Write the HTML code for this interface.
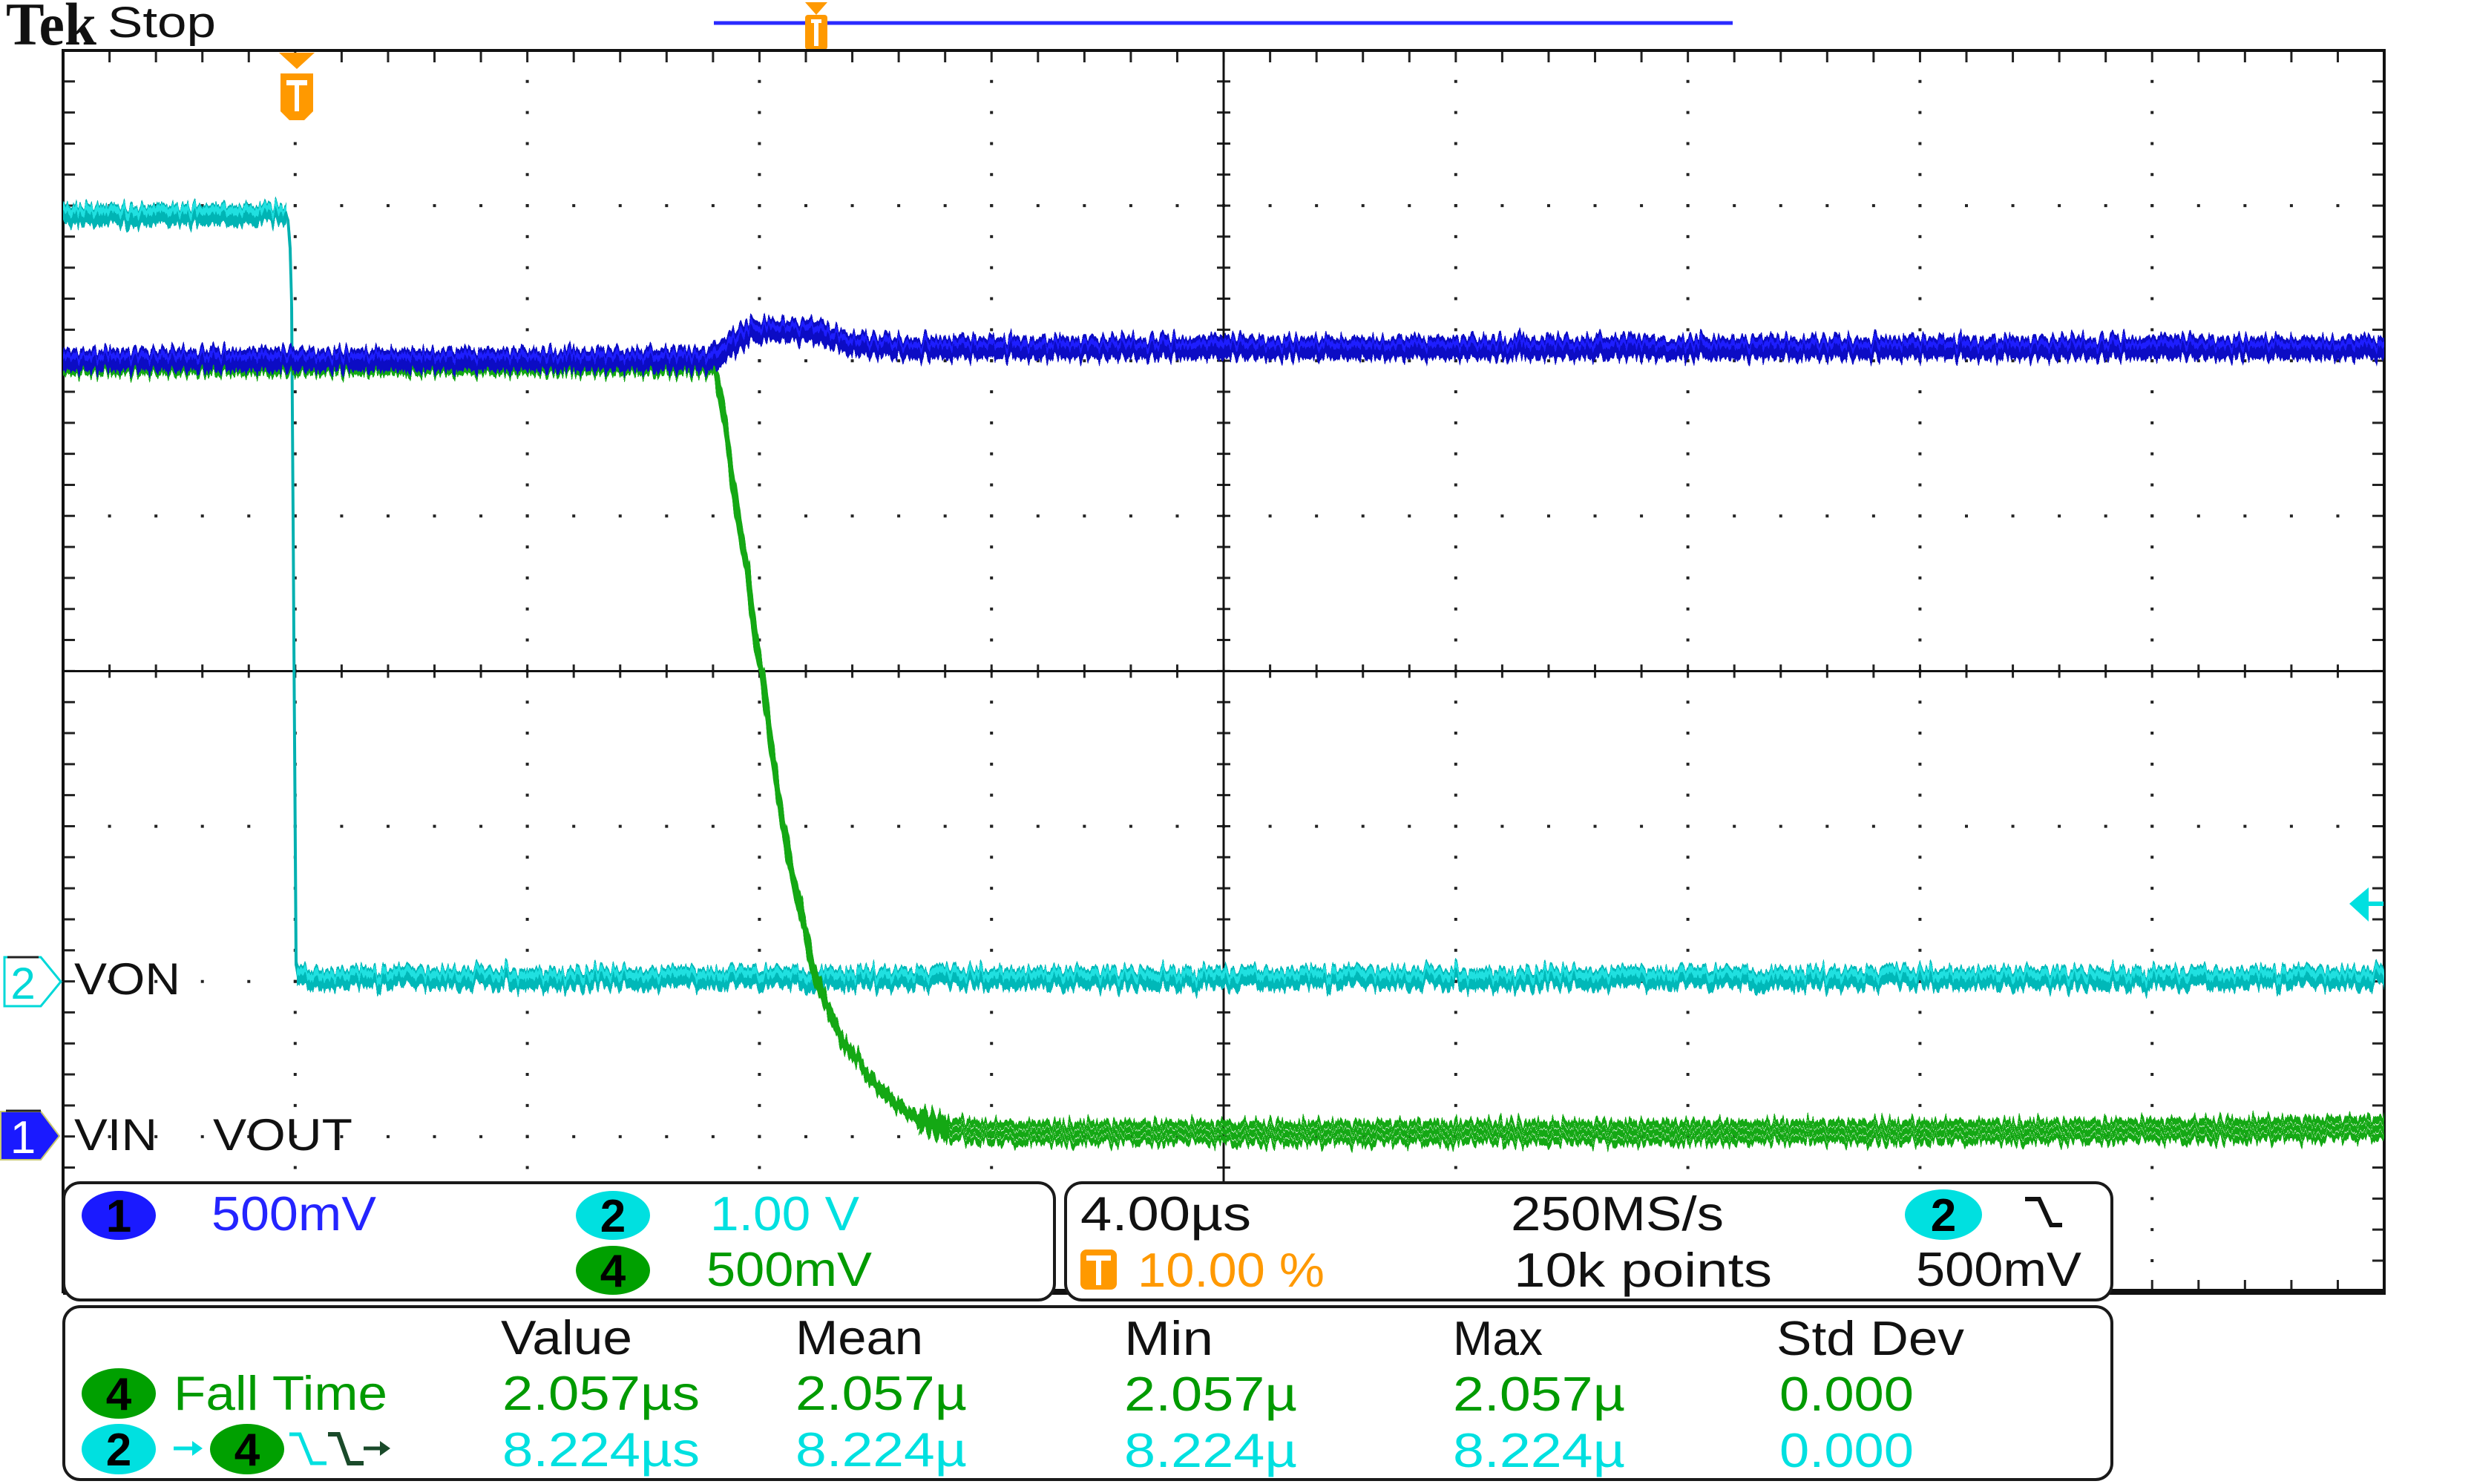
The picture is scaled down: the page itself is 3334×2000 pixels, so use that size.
<!DOCTYPE html>
<html>
<head>
<meta charset="utf-8">
<style>
html,body{margin:0;padding:0;background:#fff;overflow:hidden;}
svg{display:block;}
text{font-family:"Liberation Sans",sans-serif;}
</style>
</head>
<body>
<svg width="3334" height="2000" viewBox="0 0 3334 2000" xmlns="http://www.w3.org/2000/svg">
<defs>
<filter id="nz" filterUnits="userSpaceOnUse" x="0" y="0" width="3334" height="2000" color-interpolation-filters="sRGB">
<feTurbulence type="fractalNoise" baseFrequency="0.2 0.004" numOctaves="2" seed="7" result="t"/>
<feColorMatrix in="t" type="matrix" values="0 0 0 0 0.5  0 1 0 0 0  0 0 0 0 0  0 0 0 0 1" result="m"/>
<feDisplacementMap in="SourceGraphic" in2="m" scale="36" xChannelSelector="R" yChannelSelector="G"/>
</filter>
</defs>
<rect x="0" y="0" width="3334" height="2000" fill="#fff"/>

<!-- header -->
<text x="8" y="60" font-weight="bold" font-size="82" fill="#111" textLength="122" lengthAdjust="spacingAndGlyphs" style="font-family:'Liberation Serif',serif">Tek</text>
<text x="145" y="50" font-size="58" fill="#111" textLength="146" lengthAdjust="spacingAndGlyphs">Stop</text>

<!-- top record bar -->
<line x1="962" y1="31" x2="2335" y2="31" stroke="#2a2aff" stroke-width="5"/>
<polygon points="1085,3 1115,3 1100,20" fill="#ff9900"/>
<rect x="1085" y="20" width="30" height="47" rx="4" fill="#ff9900"/>
<rect x="1093" y="26" width="14" height="5" fill="#fff"/>
<rect x="1097" y="26" width="6" height="36" fill="#fff"/>

<!-- graticule dotted major lines -->
<g stroke="#222" stroke-width="4" fill="none">
  <g stroke-dasharray="4 37.82">
    <line x1="397.8" y1="107.8" x2="397.8" y2="1741"/>
    <line x1="710.6" y1="107.8" x2="710.6" y2="1741"/>
    <line x1="1023.4" y1="107.8" x2="1023.4" y2="1741"/>
    <line x1="1336.2" y1="107.8" x2="1336.2" y2="1741"/>
    <line x1="1961.8" y1="107.8" x2="1961.8" y2="1741"/>
    <line x1="2274.6" y1="107.8" x2="2274.6" y2="1741"/>
    <line x1="2587.4" y1="107.8" x2="2587.4" y2="1741"/>
    <line x1="2900.2" y1="107.8" x2="2900.2" y2="1741"/>
  </g>
  <g stroke-dasharray="4 58.56">
    <line x1="145.6" y1="277.1" x2="3213" y2="277.1"/>
    <line x1="145.6" y1="486.25" x2="3213" y2="486.25"/>
    <line x1="145.6" y1="695.4" x2="3213" y2="695.4"/>
    <line x1="145.6" y1="1113.6" x2="3213" y2="1113.6"/>
    <line x1="145.6" y1="1322.75" x2="3213" y2="1322.75"/>
    <line x1="145.6" y1="1531.9" x2="3213" y2="1531.9"/>
  </g>
  <!-- border ticks -->
  <line x1="146.1" y1="77" x2="3213" y2="77" stroke-width="14" stroke-dasharray="3 59.56"/>
  <line x1="146.1" y1="1732" x2="3213" y2="1732" stroke-width="14" stroke-dasharray="3 59.56"/>
  <line x1="94" y1="108.3" x2="94" y2="1741" stroke-width="14" stroke-dasharray="3 38.82"/>
  <line x1="3204" y1="108.3" x2="3204" y2="1741" stroke-width="14" stroke-dasharray="3 38.82"/>
  <!-- center ticks -->
  <line x1="1649" y1="108.3" x2="1649" y2="1741" stroke-width="18" stroke-dasharray="3 38.82"/>
  <line x1="146.1" y1="904.5" x2="3213" y2="904.5" stroke-width="18" stroke-dasharray="3 59.56"/>
</g>
<g stroke="#111" fill="none">
  <line x1="1649" y1="68" x2="1649" y2="1741" stroke-width="3"/>
  <line x1="85" y1="904.5" x2="3213" y2="904.5" stroke-width="3"/>
  <rect x="85" y="68" width="3128" height="1673" stroke-width="4"/>
  <line x1="85" y1="1741" x2="3215" y2="1741" stroke-width="8"/>
</g>

<!-- traces -->
<g filter="url(#nz)" fill="none" stroke-linejoin="round">
  <!-- ch2 cyan -->
  <path d="M85,289 H386" stroke="#00b4b4" stroke-width="28"/>
  <path d="M85,283 H386" stroke="#20e0e0" stroke-width="10"/>
  <path d="M383,285 L388,300 L391,340 L393,420 L395,700 L397,1000 L399,1300 L402,1318" stroke="#00b0b0" stroke-width="4"/>
  <path d="M400,1318 H3213" stroke="#00b8b8" stroke-width="28"/>
  <path d="M400,1313 H3213" stroke="#20e0e0" stroke-width="10"/>
  <!-- ch4 green -->
  <g stroke="#14a814" stroke-width="10">
    <path id="g4a" d="M85,490 H962"/>
    <use href="#g4a" transform="translate(0,-11)"/>
    <use href="#g4a" transform="translate(0,11)"/>
    <path id="g4c" d="M1239,1509 L1279,1522 L1346,1527 L2800,1525 L3213,1520"/>
    <use href="#g4c" transform="translate(0,-11)"/>
    <use href="#g4c" transform="translate(0,11)"/>
  </g>
  <g stroke="#14a814" stroke-width="7">
    <path id="g4b" d="M958,490 L965,505 L971,538 L978,580 L985,630 L996,706 L1007,767 L1018,859 L1027,905 L1038,997 L1052,1089 L1065,1165 L1079,1226 L1096,1303 L1114,1356 L1137,1402 L1168,1448 L1204,1486 L1239,1509 L1279,1522"/>
    <use href="#g4b" transform="translate(0,-5)"/>
    <use href="#g4b" transform="translate(0,5)"/>
  </g>
  <!-- ch1 blue -->
  <path d="M85,485 H958 L972,472 L990,460 L1010,449 L1035,444 L1090,446 L1120,455 L1160,465 L1230,469 H3213" stroke="#0c0cc4" stroke-width="30"/>
  <path d="M85,480 H958 L972,467 L990,455 L1010,444 L1035,439 L1090,441 L1120,450 L1160,460 L1230,464 H3213" stroke="#1e1eff" stroke-width="8"/>
</g>

<!-- trigger marker on graticule -->
<polygon points="376,71 424,71 400,93" fill="#ff9900"/>
<path d="M378,99 H422 V150 L410,162 H390 L378,150 Z" fill="#ff9900"/>
<rect x="386" y="108" width="28" height="7" fill="#fff"/>
<rect x="397" y="108" width="6" height="42" fill="#fff"/>

<!-- trigger level arrow right -->
<polygon points="3166,1218 3192,1196 3192,1242" fill="#00e0e0"/>
<line x1="3190" y1="1218" x2="3212" y2="1218" stroke="#00e0e0" stroke-width="6"/>

<!-- channel markers -->
<polygon points="6,1290 55,1290 82,1323 55,1356 6,1356" fill="#fff" stroke="#00d8d8" stroke-width="3"/>
<line x1="10" y1="1290" x2="52" y2="1290" stroke="#222" stroke-width="3"/>
<text x="31" y="1346" font-size="60" fill="#00d8d8" text-anchor="middle">2</text>
<polygon points="1,1498 55,1498 80,1531 55,1563 1,1563" fill="#1a1aff" stroke="#c8c870" stroke-width="2"/>
<line x1="8" y1="1497" x2="55" y2="1497" stroke="#222" stroke-width="3"/>
<text x="31" y="1554" font-size="62" fill="#fff" text-anchor="middle">1</text>

<text x="100" y="1340" font-size="60" fill="#111" textLength="143" lengthAdjust="spacingAndGlyphs">VON</text>
<text x="100" y="1550" font-size="60" fill="#111" textLength="112" lengthAdjust="spacingAndGlyphs">VIN</text>
<text x="287" y="1550" font-size="60" fill="#111" textLength="188" lengthAdjust="spacingAndGlyphs">VOUT</text>

<!-- box 1 -->
<rect x="86" y="1594" width="1335" height="158" rx="22" fill="#fff" stroke="#1a1a1a" stroke-width="4"/>
<ellipse cx="160" cy="1638" rx="50" ry="33" fill="#1a1aff"/>
<text x="160" y="1660" font-size="62" font-weight="bold" fill="#000" text-anchor="middle">1</text>
<text x="285" y="1658" font-size="65" fill="#2424ff" textLength="222" lengthAdjust="spacingAndGlyphs">500mV</text>
<ellipse cx="826" cy="1638" rx="50" ry="33" fill="#00e0e0"/>
<text x="826" y="1660" font-size="62" font-weight="bold" fill="#000" text-anchor="middle">2</text>
<text x="957" y="1658" font-size="65" fill="#00e0e0" textLength="201" lengthAdjust="spacingAndGlyphs">1.00 V</text>
<ellipse cx="826" cy="1712" rx="50" ry="33" fill="#00a000"/>
<text x="826" y="1734" font-size="62" font-weight="bold" fill="#000" text-anchor="middle">4</text>
<text x="952" y="1733" font-size="65" fill="#009a00" textLength="223" lengthAdjust="spacingAndGlyphs">500mV</text>

<!-- box 2 -->
<rect x="1436" y="1594" width="1410" height="158" rx="22" fill="#fff" stroke="#1a1a1a" stroke-width="4"/>
<text x="1456" y="1658" font-size="65" fill="#111" textLength="230" lengthAdjust="spacingAndGlyphs">4.00µs</text>
<text x="2036" y="1658" font-size="65" fill="#111" textLength="287" lengthAdjust="spacingAndGlyphs">250MS/s</text>
<ellipse cx="2619" cy="1637" rx="52" ry="34" fill="#00e0e0"/>
<text x="2619" y="1659" font-size="62" font-weight="bold" fill="#000" text-anchor="middle">2</text>
<path d="M2729,1616 H2748 L2764,1651 H2779" fill="none" stroke="#111" stroke-width="6"/>
<rect x="1456" y="1684" width="49" height="54" rx="8" fill="#ff9900"/>
<rect x="1464" y="1692" width="33" height="7" fill="#fff"/>
<rect x="1477" y="1692" width="7" height="40" fill="#fff"/>
<text x="1533" y="1734" font-size="65" fill="#ff9900" textLength="252" lengthAdjust="spacingAndGlyphs">10.00 %</text>
<text x="2040" y="1734" font-size="65" fill="#111" textLength="348" lengthAdjust="spacingAndGlyphs">10k points</text>
<text x="2582" y="1733" font-size="65" fill="#111" textLength="223" lengthAdjust="spacingAndGlyphs">500mV</text>

<!-- box 3 -->
<rect x="86" y="1761" width="2760" height="233" rx="22" fill="#fff" stroke="#1a1a1a" stroke-width="4"/>
<text x="675" y="1825" font-size="65" fill="#111" textLength="177" lengthAdjust="spacingAndGlyphs">Value</text>
<text x="1072" y="1825" font-size="65" fill="#111" textLength="172" lengthAdjust="spacingAndGlyphs">Mean</text>
<text x="1515" y="1826" font-size="65" fill="#111" textLength="120" lengthAdjust="spacingAndGlyphs">Min</text>
<text x="1958" y="1826" font-size="65" fill="#111" textLength="121" lengthAdjust="spacingAndGlyphs">Max</text>
<text x="2394" y="1826" font-size="65" fill="#111" textLength="253" lengthAdjust="spacingAndGlyphs">Std Dev</text>

<ellipse cx="160" cy="1878" rx="50" ry="34" fill="#00a000"/>
<text x="160" y="1900" font-size="62" font-weight="bold" fill="#000" text-anchor="middle">4</text>
<text x="234" y="1900" font-size="65" fill="#009a00" textLength="288" lengthAdjust="spacingAndGlyphs">Fall Time</text>
<text x="677" y="1900" font-size="65" fill="#009a00" textLength="266" lengthAdjust="spacingAndGlyphs">2.057µs</text>
<text x="1072" y="1900" font-size="65" fill="#009a00" textLength="231" lengthAdjust="spacingAndGlyphs">2.057µ</text>
<text x="1515" y="1901" font-size="65" fill="#009a00" textLength="233" lengthAdjust="spacingAndGlyphs">2.057µ</text>
<text x="1958" y="1901" font-size="65" fill="#009a00" textLength="232" lengthAdjust="spacingAndGlyphs">2.057µ</text>
<text x="2398" y="1901" font-size="65" fill="#009a00" textLength="181" lengthAdjust="spacingAndGlyphs">0.000</text>

<ellipse cx="160" cy="1953" rx="50" ry="34" fill="#00e0e0"/>
<text x="160" y="1975" font-size="62" font-weight="bold" fill="#000" text-anchor="middle">2</text>
<line x1="234" y1="1952" x2="262" y2="1952" stroke="#00e0e0" stroke-width="5"/>
<polygon points="273,1952 259,1942 259,1962" fill="#00e0e0"/>
<ellipse cx="333" cy="1953" rx="50" ry="34" fill="#00a000"/>
<text x="333" y="1975" font-size="62" font-weight="bold" fill="#000" text-anchor="middle">4</text>
<path d="M390,1933 H404 L420,1972 H440" fill="none" stroke="#00e0e0" stroke-width="5"/>
<path d="M442,1933 H456 L470,1972 H490" fill="none" stroke="#1a4a2a" stroke-width="6"/>
<line x1="490" y1="1952" x2="514" y2="1952" stroke="#1a4a2a" stroke-width="5"/>
<polygon points="526,1952 512,1942 512,1962" fill="#1a4a2a"/>
<text x="677" y="1976" font-size="65" fill="#00e0e0" textLength="266" lengthAdjust="spacingAndGlyphs">8.224µs</text>
<text x="1072" y="1976" font-size="65" fill="#00e0e0" textLength="231" lengthAdjust="spacingAndGlyphs">8.224µ</text>
<text x="1515" y="1977" font-size="65" fill="#00e0e0" textLength="233" lengthAdjust="spacingAndGlyphs">8.224µ</text>
<text x="1958" y="1977" font-size="65" fill="#00e0e0" textLength="232" lengthAdjust="spacingAndGlyphs">8.224µ</text>
<text x="2398" y="1977" font-size="65" fill="#00e0e0" textLength="181" lengthAdjust="spacingAndGlyphs">0.000</text>
</svg>
</body>
</html>
